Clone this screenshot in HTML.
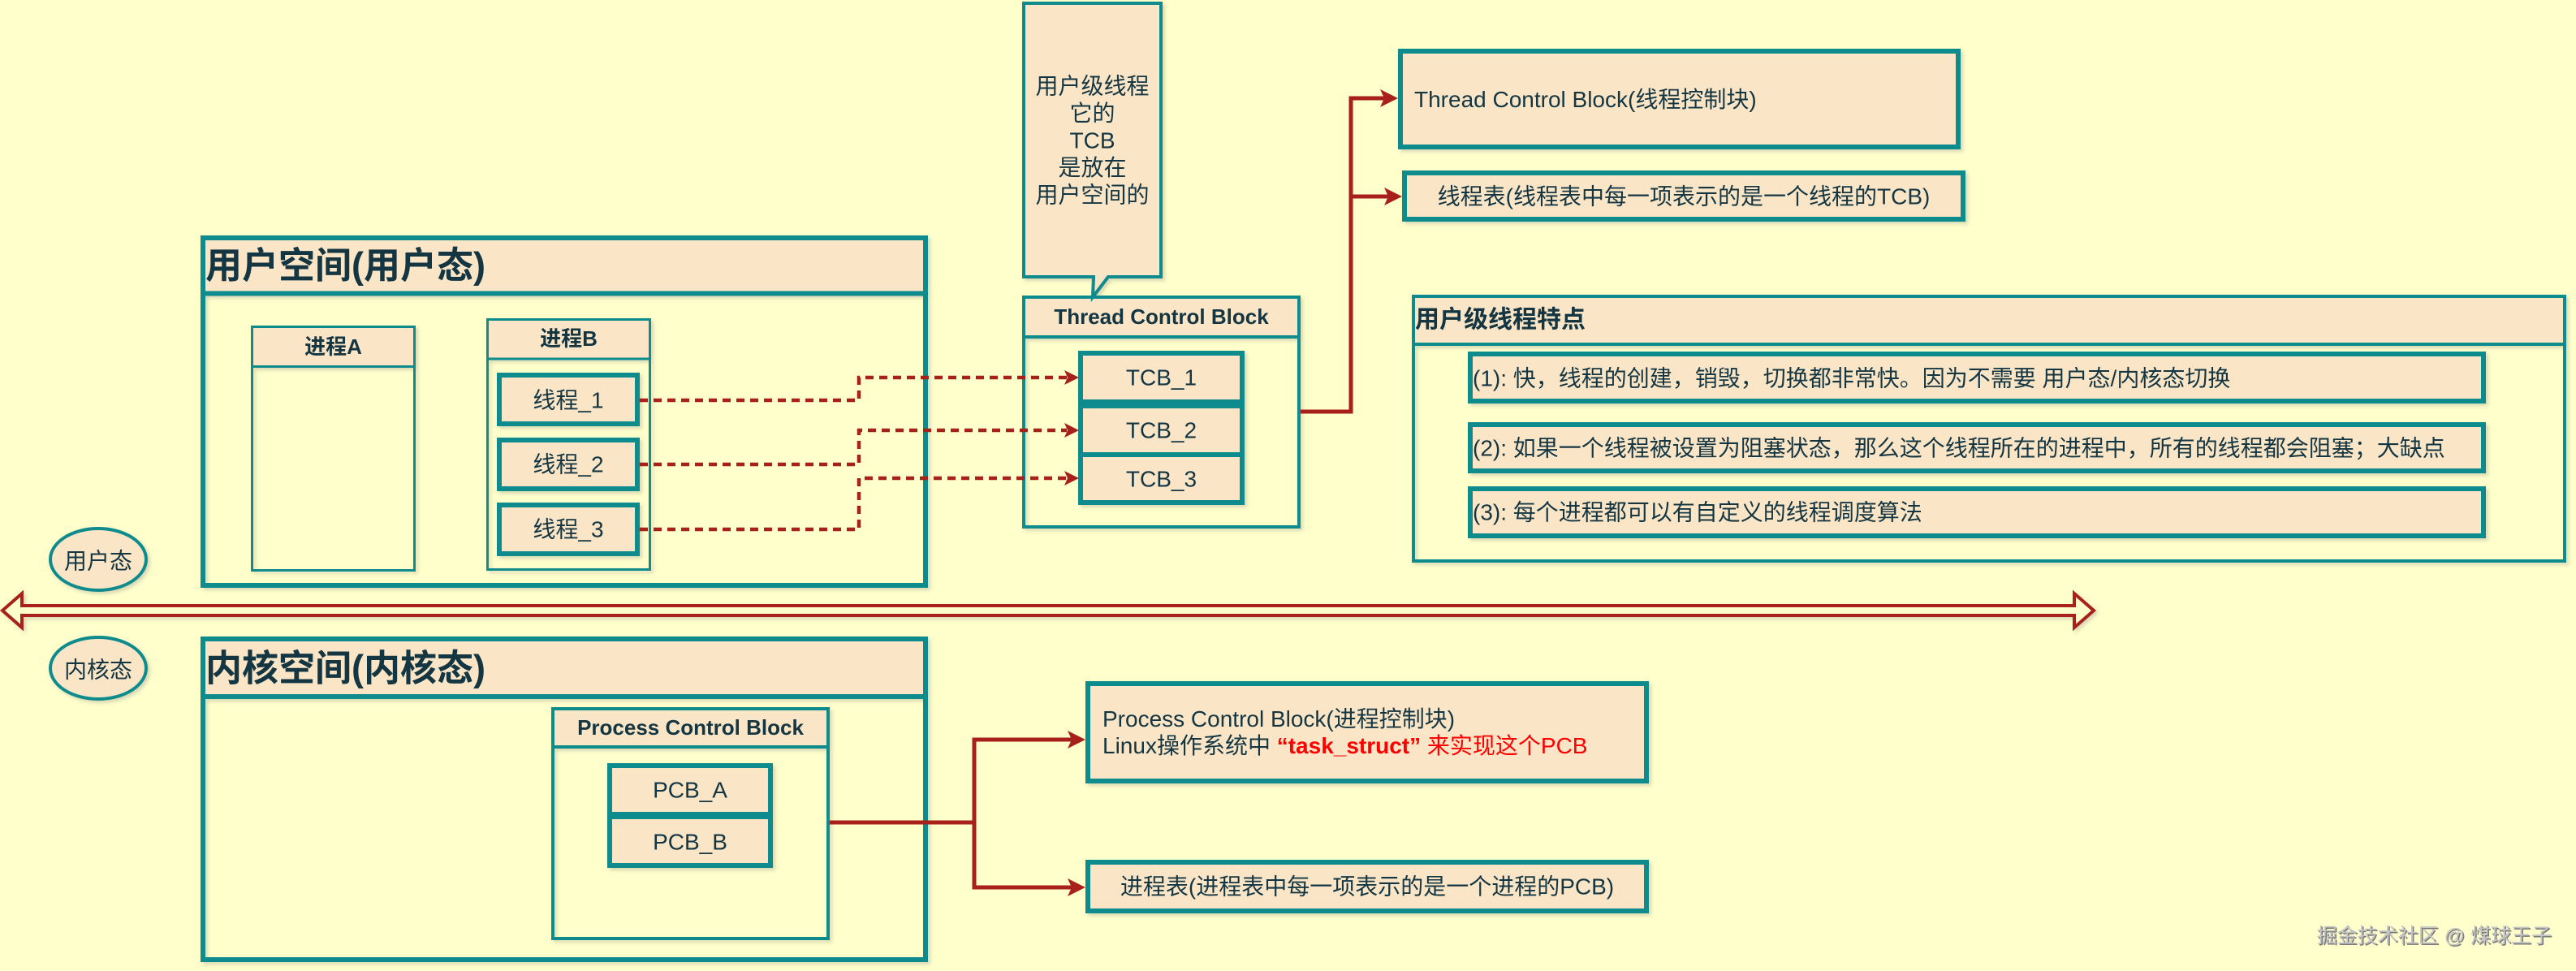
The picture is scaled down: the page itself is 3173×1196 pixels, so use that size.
<!DOCTYPE html>
<html><head><meta charset="utf-8">
<style>
html,body{margin:0;padding:0;background:#FFFFCC;}
svg{display:block;}
text{font-family:"Liberation Sans","Noto Sans CJK SC",sans-serif;fill:#143642;}
.b{font-weight:bold;}
</style></head>
<body>
<svg width="3173" height="1196" viewBox="0 0 3173 1196" xmlns="http://www.w3.org/2000/svg">
<defs>
<filter id="sh" x="-5%" y="-5%" width="115%" height="120%">
<feDropShadow dx="3" dy="3" stdDeviation="2" flood-color="#808080" flood-opacity="0.3"/>
</filter>
</defs>
<rect x="0" y="0" width="3173" height="1196" fill="#FFFFCC"/>

<g filter="url(#sh)">
<!-- User space -->
<rect x="250" y="293" width="890" height="68" fill="#FAE5C7"/>
<line x1="250" y1="361.5" x2="1140" y2="361.5" stroke="#0F8B8D" stroke-width="6"/>
<rect x="250" y="293" width="890" height="428" fill="none" stroke="#0F8B8D" stroke-width="6"/>

<!-- 进程A -->
<rect x="310.5" y="402.5" width="200" height="49" fill="#FAE5C7"/>
<line x1="310.5" y1="451.5" x2="510.5" y2="451.5" stroke="#0F8B8D" stroke-width="3"/>
<rect x="310.5" y="402.5" width="200" height="300" fill="none" stroke="#0F8B8D" stroke-width="3"/>

<!-- 进程B -->
<rect x="600.5" y="393.5" width="200" height="48" fill="#FAE5C7"/>
<line x1="600.5" y1="442" x2="800.5" y2="442" stroke="#0F8B8D" stroke-width="3"/>
<rect x="600.5" y="393.5" width="200" height="308" fill="none" stroke="#0F8B8D" stroke-width="3"/>

<!-- 线程 boxes -->
<rect x="615" y="462" width="170" height="60" fill="#FAE5C7" stroke="#0F8B8D" stroke-width="6"/>
<rect x="615" y="542" width="170" height="60" fill="#FAE5C7" stroke="#0F8B8D" stroke-width="6"/>
<rect x="615" y="622" width="170" height="60" fill="#FAE5C7" stroke="#0F8B8D" stroke-width="6"/>

<!-- Kernel space -->
<rect x="250" y="787" width="890" height="71" fill="#FAE5C7"/>
<line x1="250" y1="858" x2="1140" y2="858" stroke="#0F8B8D" stroke-width="6"/>
<rect x="250" y="787" width="890" height="395" fill="none" stroke="#0F8B8D" stroke-width="6"/>

<!-- Process Control Block container -->
<rect x="681" y="873" width="339" height="47" fill="#FAE5C7"/>
<line x1="681" y1="920" x2="1020" y2="920" stroke="#0F8B8D" stroke-width="4"/>
<rect x="681" y="873" width="339" height="283" fill="none" stroke="#0F8B8D" stroke-width="4"/>
<rect x="751" y="943" width="198" height="60" fill="#FAE5C7" stroke="#0F8B8D" stroke-width="6"/>
<rect x="751" y="1006" width="198" height="60" fill="#FAE5C7" stroke="#0F8B8D" stroke-width="6"/>

<!-- Thread Control Block container -->
<rect x="1261" y="366" width="339" height="49" fill="#FAE5C7"/>
<line x1="1261" y1="415" x2="1600" y2="415" stroke="#0F8B8D" stroke-width="4"/>
<rect x="1261" y="366" width="339" height="283" fill="none" stroke="#0F8B8D" stroke-width="4"/>
<rect x="1331" y="435" width="199" height="60" fill="#FAE5C7" stroke="#0F8B8D" stroke-width="6"/>
<rect x="1331" y="500" width="199" height="60" fill="#FAE5C7" stroke="#0F8B8D" stroke-width="6"/>
<rect x="1331" y="560" width="199" height="59" fill="#FAE5C7" stroke="#0F8B8D" stroke-width="6"/>

<!-- Callout -->
<path d="M1261,4 H1430 V341 H1365 L1346,366 L1347,341 H1261 Z" fill="#FAE5C7" stroke="#0F8B8D" stroke-width="4" stroke-linejoin="miter"/>

<!-- Right top boxes -->
<rect x="1725" y="63" width="687" height="118" fill="#FAE5C7" stroke="#0F8B8D" stroke-width="6"/>
<rect x="1730" y="213" width="688" height="57" fill="#FAE5C7" stroke="#0F8B8D" stroke-width="6"/>

<!-- 用户级线程特点 -->
<rect x="1741" y="365" width="1418" height="59" fill="#FAE5C7"/>
<line x1="1741" y1="424" x2="3159" y2="424" stroke="#0F8B8D" stroke-width="4"/>
<rect x="1741" y="365" width="1418" height="326" fill="none" stroke="#0F8B8D" stroke-width="4"/>
<rect x="1811" y="436" width="1248" height="58" fill="#FAE5C7" stroke="#0F8B8D" stroke-width="6"/>
<rect x="1811" y="523" width="1248" height="57" fill="#FAE5C7" stroke="#0F8B8D" stroke-width="6"/>
<rect x="1811" y="602" width="1248" height="58" fill="#FAE5C7" stroke="#0F8B8D" stroke-width="6"/>

<!-- PCB right boxes -->
<rect x="1340" y="842" width="688" height="120" fill="#FAE5C7" stroke="#0F8B8D" stroke-width="6"/>
<rect x="1340" y="1062" width="688" height="60" fill="#FAE5C7" stroke="#0F8B8D" stroke-width="6"/>

<!-- Ellipses -->
<ellipse cx="121" cy="689" rx="59" ry="38" fill="#FAE5C7" stroke="#0F8B8D" stroke-width="4"/>
<ellipse cx="121" cy="823" rx="59" ry="38" fill="#FAE5C7" stroke="#0F8B8D" stroke-width="4"/>

<!-- Double arrow -->
<path d="M3,752 L27,731 L27,746 L2555,746 L2555,731 L2579,752 L2555,773 L2555,758 L27,758 L27,773 Z" fill="#FFFFCC" stroke="#A8201A" stroke-width="4" stroke-linejoin="miter"/>
</g>

<!-- Dashed connectors -->
<g fill="none" stroke="#A8201A" stroke-width="4.5" stroke-dasharray="10 7">
<path d="M788,493 H1058 V465 H1314"/>
<path d="M788,572 H1058 V530 H1314"/>
<path d="M788,652 H1058 V589 H1314"/>
</g>
<g fill="#A8201A">
<path d="M1329,465 L1311,456 L1315,465 L1311,474 Z"/>
<path d="M1329,530 L1311,521 L1315,530 L1311,539 Z"/>
<path d="M1329,589 L1311,580 L1315,589 L1311,598 Z"/>
</g>

<!-- Solid connectors -->
<g fill="none" stroke="#A8201A" stroke-width="5" stroke-linejoin="miter">
<path d="M1602,507 H1664 V121 H1706"/>
<path d="M1664,242 H1711"/>
<path d="M1022,1013 H1200 V911 H1321"/>
<path d="M1200,1013 V1093 H1321"/>
</g>
<g fill="#A8201A">
<path d="M1722,121 L1700,110 L1705,121 L1700,132 Z"/>
<path d="M1727,242 L1705,231 L1710,242 L1705,253 Z"/>
<path d="M1337,911 L1315,900 L1320,911 L1315,922 Z"/>
<path d="M1337,1093 L1315,1082 L1320,1093 L1315,1104 Z"/>
</g>

<!-- Texts -->
<text class="b" x="253" y="327" font-size="45" dominant-baseline="central">用户空间(用户态)</text>
<text class="b" x="253" y="823" font-size="45" dominant-baseline="central">内核空间(内核态)</text>

<text class="b" x="410.5" y="427" font-size="26" text-anchor="middle" dominant-baseline="central">进程A</text>
<text class="b" x="700.5" y="417" font-size="26" text-anchor="middle" dominant-baseline="central">进程B</text>

<text x="700" y="493" font-size="28" text-anchor="middle" dominant-baseline="central">线程_1</text>
<text x="700" y="572" font-size="28" text-anchor="middle" dominant-baseline="central">线程_2</text>
<text x="700" y="652" font-size="28" text-anchor="middle" dominant-baseline="central">线程_3</text>

<text class="b" x="1430.5" y="390" font-size="26" text-anchor="middle" dominant-baseline="central">Thread Control Block</text>
<text x="1430.5" y="465" font-size="28" text-anchor="middle" dominant-baseline="central">TCB_1</text>
<text x="1430.5" y="530" font-size="28" text-anchor="middle" dominant-baseline="central">TCB_2</text>
<text x="1430.5" y="590" font-size="28" text-anchor="middle" dominant-baseline="central">TCB_3</text>

<g font-size="28" text-anchor="middle">
<text x="1345.5" y="106" dominant-baseline="central">用户级线程</text>
<text x="1345.5" y="139.5" dominant-baseline="central">它的</text>
<text x="1345.5" y="173" dominant-baseline="central">TCB</text>
<text x="1345.5" y="206.5" dominant-baseline="central">是放在</text>
<text x="1345.5" y="240" dominant-baseline="central">用户空间的</text>
</g>

<text x="1742" y="132" font-size="28">Thread Control Block(线程控制块)</text>
<text x="2074" y="242" font-size="28" text-anchor="middle" dominant-baseline="central">线程表(线程表中每一项表示的是一个线程的TCB)</text>

<text class="b" x="1743" y="394" font-size="30" dominant-baseline="central">用户级线程特点</text>
<text x="1814" y="466" font-size="28" dominant-baseline="central">(1): 快，线程的创建，销毁，切换都非常快。因为不需要 用户态/内核态切换</text>
<text x="1814" y="552" font-size="28" dominant-baseline="central">(2): 如果一个线程被设置为阻塞状态，那么这个线程所在的进程中，所有的线程都会阻塞；大缺点</text>
<text x="1814" y="631" font-size="28" dominant-baseline="central">(3): 每个进程都可以有自定义的线程调度算法</text>

<text x="121" y="691" font-size="28" text-anchor="middle" dominant-baseline="central">用户态</text>
<text x="121" y="825" font-size="28" text-anchor="middle" dominant-baseline="central">内核态</text>

<text class="b" x="850.5" y="896" font-size="26" text-anchor="middle" dominant-baseline="central">Process Control Block</text>
<text x="850" y="973" font-size="28" text-anchor="middle" dominant-baseline="central">PCB_A</text>
<text x="850" y="1037" font-size="28" text-anchor="middle" dominant-baseline="central">PCB_B</text>

<text x="1358" y="895" font-size="28">Process Control Block(进程控制块)</text>
<text x="1358" y="928" font-size="28">Linux操作系统中 <tspan style="fill:#FF0000;font-weight:bold">“task_struct”</tspan><tspan style="fill:#FF0000"> 来实现这个PCB</tspan></text>
<text x="1684" y="1092" font-size="28" text-anchor="middle" dominant-baseline="central">进程表(进程表中每一项表示的是一个进程的PCB)</text>

<text x="3144.5" y="1162.5" font-size="25" text-anchor="end" style="fill:#7a7a7a;">掘金技术社区 @ 煤球王子</text>
<text x="3143" y="1161" font-size="25" text-anchor="end" style="fill:#c4c4c4;">掘金技术社区 @ 煤球王子</text>
</svg>
</body></html>
